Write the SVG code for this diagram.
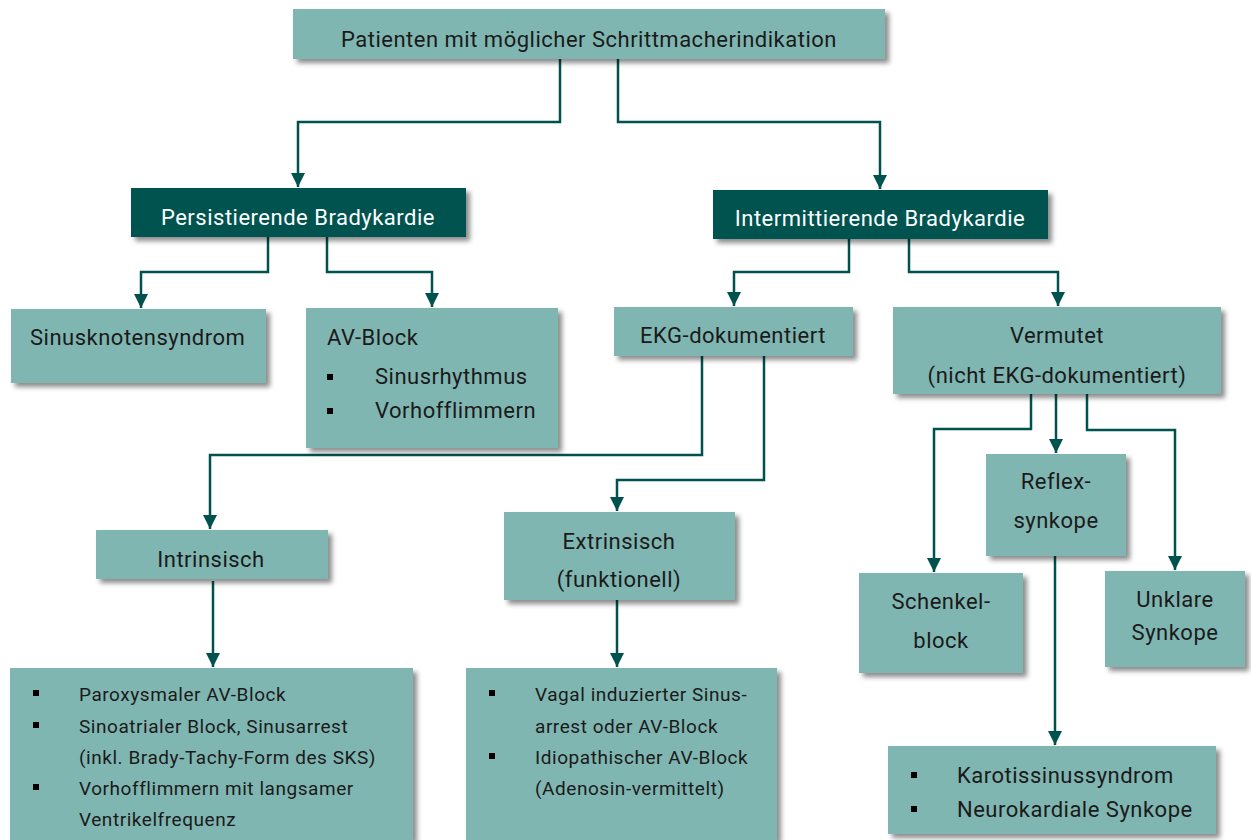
<svg xmlns="http://www.w3.org/2000/svg" width="1251" height="840" viewBox="0 0 1251 840">
  <defs>
    <filter id="shadow" x="-10%" y="-10%" width="125%" height="135%">
      <feDropShadow dx="4" dy="4" stdDeviation="2.5" flood-color="#000" flood-opacity="0.45"/>
    </filter>
    <marker id="arrow" markerUnits="userSpaceOnUse" markerWidth="16" markerHeight="16" refX="14" refY="7" orient="auto">
      <path d="M0,0 L14,7 L0,14 Z" fill="#00524f"/>
    </marker>
    <style>
      .box { fill: #80b6b1; filter: url(#shadow); }
      .dark { fill: #00524f; filter: url(#shadow); }
      .t { font-family: Roboto, "Liberation Sans", sans-serif; font-size: 22px; letter-spacing: 0.5px; fill: #1a1a1a; }
      .tw { font-family: Roboto, "Liberation Sans", sans-serif; font-size: 22px; letter-spacing: 0.5px; fill: #ffffff; }
      .ts { font-family: Roboto, "Liberation Sans", sans-serif; font-size: 19px; letter-spacing: 0.55px; fill: #1a1a1a; }
      .c { text-anchor: middle; }
      .edge { fill: none; stroke: #00524f; stroke-width: 2.5; marker-end: url(#arrow); }
      .bullet { fill: #000; }
    </style>
  </defs>

  <rect width="1251" height="840" fill="#ffffff"/>

  <!-- connectors -->
  <g id="connectors">
    <path class="edge" d="M560,59 V122 H298 V187"/>
    <path class="edge" d="M618,59 V122 H880 V189"/>
    <path class="edge" d="M268,237 V272 H141 V308"/>
    <path class="edge" d="M327,237 V272 H432 V307"/>
    <path class="edge" d="M849,239 V272 H734 V306"/>
    <path class="edge" d="M909,239 V272 H1058 V306"/>
    <path class="edge" d="M702,356 V455 H210 V529"/>
    <path class="edge" d="M764,356 V480 H617 V511"/>
    <path class="edge" d="M213,581 V667"/>
    <path class="edge" d="M617,592 V667"/>
    <path class="edge" d="M1031,394 V429 H934 V572"/>
    <path class="edge" d="M1056,394 V453"/>
    <path class="edge" d="M1087,394 V430 H1175 V570"/>
    <path class="edge" d="M1055,535 V745"/>
  </g>

  <g id="root">
    <rect class="box" x="293" y="9" width="592" height="50"/>
    <text class="t c" x="589" y="47">Patienten mit möglicher Schrittmacherindikation</text>
  </g>

  <g id="persistierend">
    <rect class="dark" x="131" y="188" width="335" height="49"/>
    <text class="tw c" x="298" y="225">Persistierende Bradykardie</text>
  </g>

  <g id="intermittierend">
    <rect class="dark" x="713" y="190" width="335" height="49"/>
    <text class="tw c" x="880" y="226">Intermittierende Bradykardie</text>
  </g>

  <g id="sinusknoten">
    <rect class="box" x="11" y="309" width="255" height="74"/>
    <text class="t" x="30" y="345">Sinusknotensyndrom</text>
  </g>

  <g id="avblock">
    <rect class="box" x="306" y="308" width="252" height="140"/>
    <text class="t" x="327" y="345">AV-Block</text>
    <rect class="bullet" x="327" y="374" width="6" height="6"/>
    <text class="t" x="375" y="384">Sinusrhythmus</text>
    <rect class="bullet" x="327" y="408" width="6" height="6"/>
    <text class="t" x="375" y="418">Vorhofflimmern</text>
  </g>

  <g id="ekg">
    <rect class="box" x="614" y="307" width="239" height="49"/>
    <text class="t c" x="733" y="343">EKG-dokumentiert</text>
  </g>

  <g id="vermutet">
    <rect class="box" x="893" y="307" width="328" height="87"/>
    <text class="t c" x="1057" y="343">Vermutet</text>
    <text class="t c" x="1057" y="383">(nicht EKG-dokumentiert)</text>
  </g>

  <g id="intrinsisch">
    <rect class="box" x="96" y="530" width="232" height="49"/>
    <text class="t c" x="211" y="567">Intrinsisch</text>
  </g>

  <g id="extrinsisch">
    <rect class="box" x="504" y="512" width="231" height="88"/>
    <text class="t c" x="619" y="549">Extrinsisch</text>
    <text class="t c" x="619" y="587">(funktionell)</text>
  </g>

  <g id="intrinsisch-liste">
    <rect class="box" x="10" y="668" width="403" height="172"/>
    <rect class="bullet" x="33" y="690" width="6" height="6"/>
    <text class="ts" x="79" y="701">Paroxysmaler AV-Block</text>
    <rect class="bullet" x="33" y="722" width="6" height="6"/>
    <text class="ts" x="79" y="733">Sinoatrialer Block, Sinusarrest</text>
    <text class="ts" x="79" y="764">(inkl. Brady-Tachy-Form des SKS)</text>
    <rect class="bullet" x="33" y="784" width="6" height="6"/>
    <text class="ts" x="79" y="795">Vorhofflimmern mit langsamer</text>
    <text class="ts" x="79" y="826">Ventrikelfrequenz</text>
  </g>

  <g id="extrinsisch-liste">
    <rect class="box" x="466" y="668" width="311" height="172"/>
    <rect class="bullet" x="489" y="690" width="6" height="6"/>
    <text class="ts" x="535" y="701">Vagal induzierter Sinus-</text>
    <text class="ts" x="535" y="733">arrest oder AV-Block</text>
    <rect class="bullet" x="489" y="753" width="6" height="6"/>
    <text class="ts" x="535" y="764">Idiopathischer AV-Block</text>
    <text class="ts" x="535" y="795">(Adenosin-vermittelt)</text>
  </g>

  <g id="reflexsynkope">
    <rect class="box" x="986" y="454" width="140" height="102"/>
    <text class="t c" x="1056" y="489">Reflex-</text>
    <text class="t c" x="1056" y="528">synkope</text>
  </g>

  <g id="schenkelblock">
    <rect class="box" x="859" y="573" width="164" height="100"/>
    <text class="t c" x="941" y="609">Schenkel-</text>
    <text class="t c" x="941" y="648">block</text>
  </g>

  <g id="unklare-synkope">
    <rect class="box" x="1105" y="571" width="140" height="96"/>
    <text class="t c" x="1175" y="607">Unklare</text>
    <text class="t c" x="1175" y="640">Synkope</text>
  </g>

  <g id="karotis">
    <rect class="box" x="888" y="746" width="328" height="88"/>
    <rect class="bullet" x="911" y="772" width="6" height="6"/>
    <text class="t" x="957" y="783">Karotissinussyndrom</text>
    <rect class="bullet" x="911" y="806" width="6" height="6"/>
    <text class="t" x="957" y="817">Neurokardiale Synkope</text>
  </g>
</svg>
